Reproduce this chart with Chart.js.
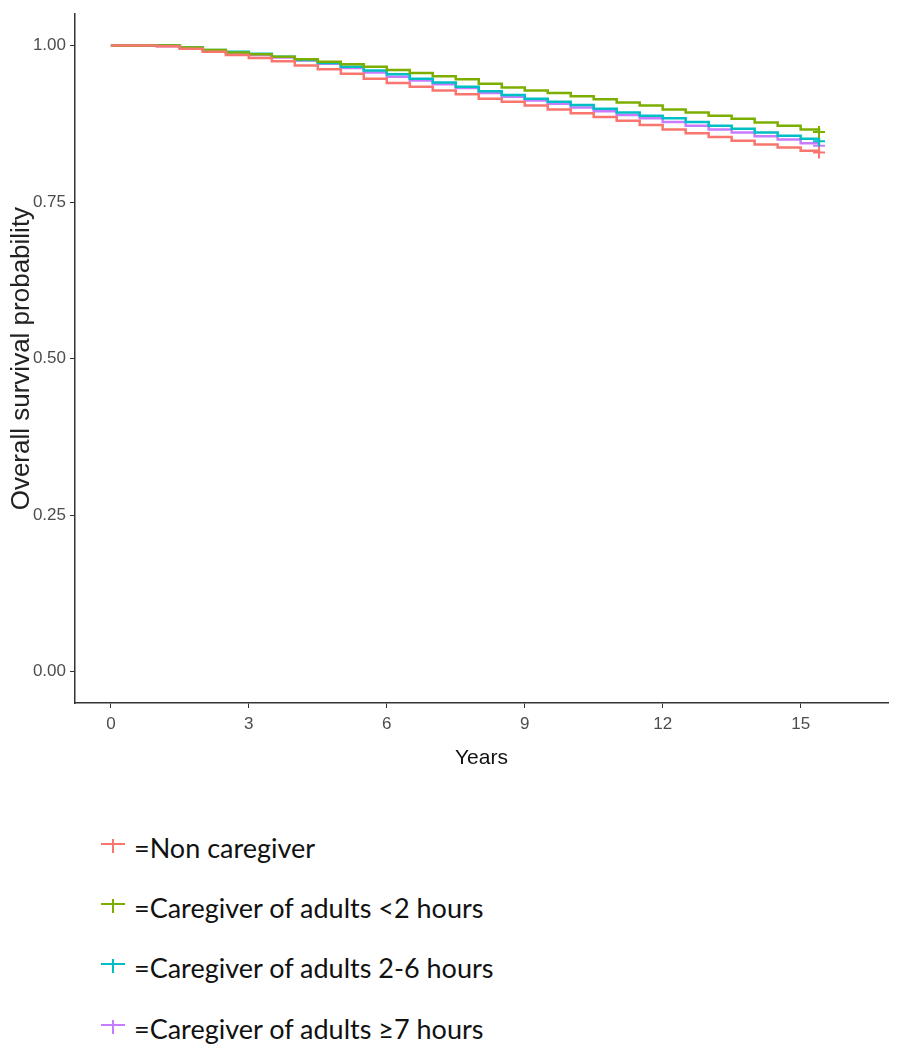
<!DOCTYPE html>
<html>
  <head>
    <script src="https://cdn.jsdelivr.net/npm/chart.js@4.4.1/dist/chart.umd.min.js"></script>
    <style>
      body {
        margin: 0;
        background: #ffffff;
        width: 902px;
        height: 1047px;
        position: relative;
        overflow: hidden;
      }

      /* CSS for the chart container */
      .chart-container {
        position: absolute;
        left: 0;
        top: 0;
        width: 902px;
        height: 790px;
      }

      /* CSS for the legend below the chart */
      .legend-row {
        position: absolute;
        left: 0;
        height: 40px;
        font-family: Lato, "Open Sans", sans-serif;
        font-size: 27px;
        color: #111;
      }

      .legend-row .mark {
        position: absolute;
        width: 24px;
        height: 16px;
      }

      .legend-row .mark .h {
        position: absolute;
        left: 0;
        top: 2px;
        width: 24px;
        height: 2px;
      }

      .legend-row .mark .v {
        position: absolute;
        left: 11px;
        top: -2px;
        width: 2px;
        height: 14px;
      }

      .legend-row .txt {
        position: absolute;
        white-space: nowrap;
      }
    </style>
  </head>
  <body>
    <div class="chart-container">
      <canvas id="myChart" width="902" height="790"></canvas>
    </div>
    <div id="legend"></div>
    <script>
      // follow-up time in years
      var years = [0, 0.5, 1, 1.5, 2, 2.5, 3, 3.5, 4, 4.5, 5, 5.5, 6, 6.5, 7, 7.5,
        8, 8.5, 9, 9.5, 10, 10.5, 11, 11.5, 12, 12.5, 13, 13.5, 14, 14.5, 15, 15.4];

      // survival probability per group
      var nonCaregiver = [1.000, 1.000, 0.999, 0.995, 0.990, 0.985, 0.980, 0.975, 0.968, 0.962,
        0.955, 0.947, 0.940, 0.934, 0.928, 0.922, 0.915, 0.910, 0.904, 0.898, 0.892, 0.886,
        0.880, 0.873, 0.866, 0.860, 0.854, 0.848, 0.842, 0.837, 0.832, 0.829];
      var under2h = [1.000, 1.000, 1.000, 0.997, 0.993, 0.989, 0.986, 0.982, 0.978, 0.974,
        0.970, 0.966, 0.961, 0.956, 0.951, 0.946, 0.939, 0.933, 0.928, 0.924, 0.919, 0.914,
        0.909, 0.904, 0.898, 0.893, 0.888, 0.883, 0.877, 0.872, 0.866, 0.862];
      var from2to6h = [1.000, 1.000, 1.000, 0.997, 0.993, 0.990, 0.987, 0.982, 0.977, 0.972,
        0.966, 0.960, 0.954, 0.947, 0.941, 0.934, 0.927, 0.921, 0.915, 0.910, 0.905, 0.899,
        0.893, 0.888, 0.884, 0.878, 0.872, 0.867, 0.861, 0.856, 0.851, 0.847];
      var over7h = [1.000, 1.000, 0.999, 0.996, 0.992, 0.989, 0.985, 0.981, 0.976, 0.971,
        0.964, 0.957, 0.950, 0.944, 0.938, 0.932, 0.924, 0.918, 0.912, 0.907, 0.901, 0.895,
        0.889, 0.884, 0.878, 0.872, 0.866, 0.861, 0.855, 0.850, 0.844, 0.840];

      var groupLabels = ["Non caregiver", "Caregiver of adults <2 hours",
        "Caregiver of adults 2-6 hours", "Caregiver of adults \u22657 hours"];
      var groupColors = ["#F8766D", "#7CAE00", "#00BFC4", "#C77CFF"];

      // axis ticks
      var xTicks = [0, 3, 6, 9, 12, 15];
      var yTicks = [0, 0.25, 0.5, 0.75, 1];

      var series = [nonCaregiver, under2h, from2to6h, over7h];

      function toPoints(values) {
        return values.map(function (v, i) {
          return { x: years[i], y: v };
        });
      }

      var datasets = series.map(function (values, k) {
        return {
          label: groupLabels[k],
          data: toPoints(values),
          borderColor: groupColors[k],
          backgroundColor: groupColors[k],
          borderWidth: 2.5,
          stepped: true,
          fill: false,
          // censor mark only at the last time point
          pointStyle: "cross",
          pointRadius: function (ctx) {
            return ctx.dataIndex === years.length - 1 ? 6 : 0;
          },
          pointBorderWidth: 2,
          pointBorderColor: groupColors[k],
        };
      });

      var narrow = "'Liberation Sans Narrow', 'Liberation Sans', Arial, sans-serif";

      var ctx = document.getElementById("myChart").getContext("2d");
      var chart = new Chart(ctx, {
        type: "line",
        data: { datasets: datasets },
        options: {
          responsive: false,
          animation: false,
          layout: { padding: { top: 13, right: 14, left: 0, bottom: 0 } },
          plugins: {
            legend: { display: false },
            tooltip: { enabled: false },
          },
          scales: {
            x: {
              type: "linear",
              min: -0.78,
              max: 16.9,
              afterBuildTicks: function (scale) {
                scale.ticks = xTicks.map(function (v) { return { value: v }; });
              },
              afterFit: function (scale) { scale.height = 87; },
              grid: { drawOnChartArea: false, drawTicks: true, tickLength: 5, color: "#333", lineWidth: 1 },
              border: { display: true, color: "#333", width: 1.5 },
              ticks: {
                color: "#4d4d4d",
                font: { family: narrow, size: 17 },
                padding: 6,
                maxRotation: 0,
                callback: function (v) { return String(v); },
              },
              title: {
                display: true,
                text: "Years",
                color: "#111",
                font: { family: narrow, size: 21 },
                padding: { top: 0, bottom: 19 },
              },
            },
            y: {
              min: -0.05,
              max: 1.05,
              afterBuildTicks: function (scale) {
                scale.ticks = yTicks.map(function (v) { return { value: v }; });
              },
              afterFit: function (scale) { scale.width = 75; },
              grid: { drawOnChartArea: false, drawTicks: true, tickLength: 5, color: "#333", lineWidth: 1 },
              border: { display: true, color: "#333", width: 1.5 },
              ticks: {
                color: "#4d4d4d",
                font: { family: narrow, size: 17 },
                padding: 4,
                callback: function (v) { return v.toFixed(2); },
              },
              title: {
                display: true,
                text: "Overall survival probability",
                color: "#222",
                font: { family: "'Liberation Sans', Arial, sans-serif", size: 26 },
                padding: { top: 6, bottom: 0 },
              },
            },
          },
        },
      });

      // legend rows below the chart
      var legendTops = [831, 891, 951, 1012];
      var legend = document.getElementById("legend");
      groupLabels.forEach(function (label, k) {
        var row = document.createElement("div");
        row.className = "legend-row";
        row.style.top = legendTops[k] + "px";
        row.innerHTML =
          "<span class='mark' style='left:101px;top:10px'>" +
          "<span class='h' style='background:" + groupColors[k] + "'></span>" +
          "<span class='v' style='background:" + groupColors[k] + "'></span></span>" +
          "<span class='txt' style='left:134px;top:0px'>=" + label.replace("<", "&lt;") + "</span>";
        legend.appendChild(row);
      });
    </script>
  </body>
</html>
